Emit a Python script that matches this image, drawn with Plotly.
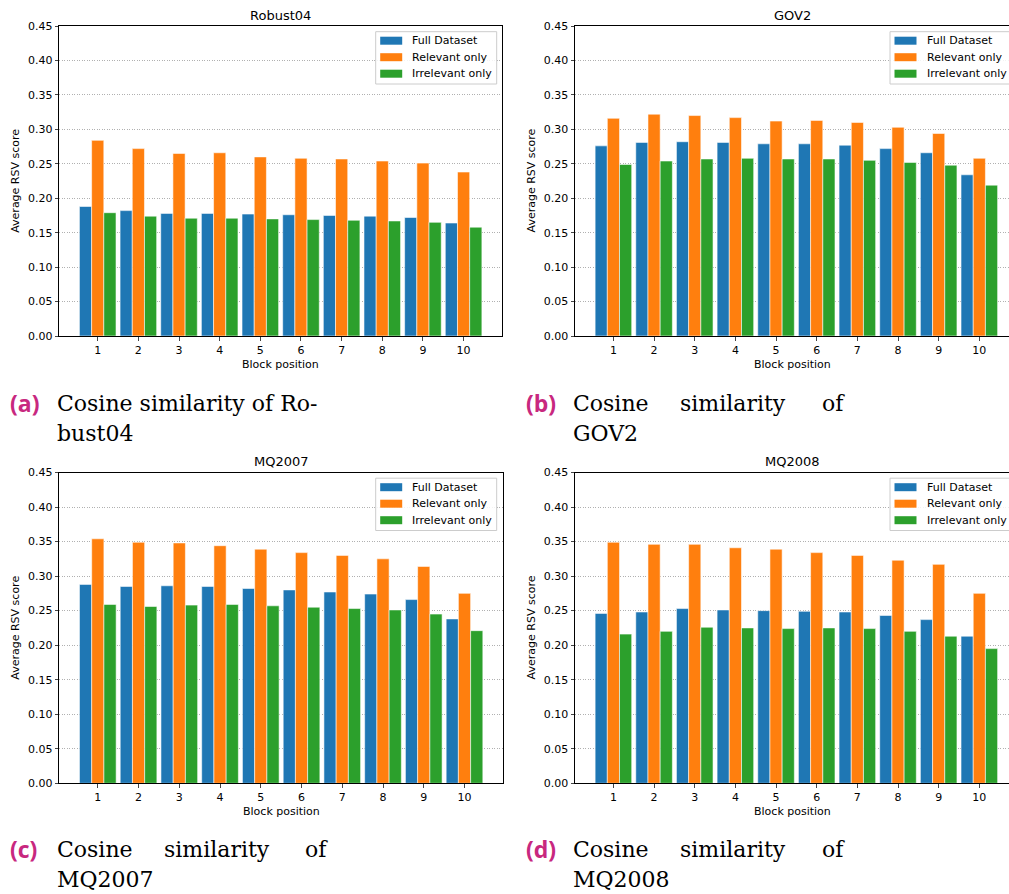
import plotly.graph_objects as go

# Block positions on the x axis
blocks = [1, 2, 3, 4, 5, 6, 7, 8, 9, 10]

series_names = ["Full Dataset", "Relevant only", "Irrelevant only"]
series_colors = ["#1f77b4", "#ff7f0e", "#2ca02c"]

# Average RSV score per block position
robust04_full = [0.188, 0.182, 0.178, 0.178, 0.177, 0.176, 0.175, 0.174, 0.172, 0.164]
robust04_rel = [0.284, 0.272, 0.265, 0.266, 0.260, 0.258, 0.257, 0.254, 0.251, 0.238]
robust04_irr = [0.179, 0.174, 0.171, 0.171, 0.170, 0.169, 0.168, 0.167, 0.165, 0.158]

gov2_full = [0.276, 0.281, 0.282, 0.281, 0.279, 0.279, 0.277, 0.272, 0.266, 0.234]
gov2_rel = [0.316, 0.322, 0.320, 0.317, 0.312, 0.313, 0.310, 0.303, 0.294, 0.258]
gov2_irr = [0.249, 0.254, 0.257, 0.258, 0.257, 0.257, 0.255, 0.252, 0.248, 0.219]

mq2007_full = [0.288, 0.285, 0.286, 0.285, 0.282, 0.280, 0.277, 0.274, 0.266, 0.238]
mq2007_rel = [0.354, 0.349, 0.348, 0.344, 0.339, 0.334, 0.330, 0.325, 0.314, 0.275]
mq2007_irr = [0.259, 0.256, 0.258, 0.259, 0.257, 0.255, 0.253, 0.251, 0.245, 0.221]

mq2008_full = [0.246, 0.248, 0.253, 0.251, 0.250, 0.249, 0.248, 0.243, 0.237, 0.213]
mq2008_rel = [0.349, 0.346, 0.346, 0.341, 0.339, 0.334, 0.330, 0.323, 0.317, 0.275]
mq2008_irr = [0.216, 0.220, 0.226, 0.225, 0.224, 0.225, 0.224, 0.220, 0.213, 0.195]

panel_titles = ["Robust04", "GOV2", "MQ2007", "MQ2008"]
panel_series = [
    [robust04_full, robust04_rel, robust04_irr],
    [gov2_full, gov2_rel, gov2_irr],
    [mq2007_full, mq2007_rel, mq2007_irr],
    [mq2008_full, mq2008_rel, mq2008_irr],
]
caption_letters = ["(a)", "(b)", "(c)", "(d)"]

W, H = 1009, 894
FONT = "DejaVu Sans"


def px(x):
    return x / W


def py(y):
    return (H - y) / H


# Pixel frames of the four axes: left, right, top, bottom
frames = [
    (59.3, 502.0, 26.0, 336.0),
    (575.0, 1009.0, 26.0, 336.0),
    (59.3, 503.0, 472.5, 783.3),
    (575.0, 1009.0, 472.5, 783.3),
]
x_ranges = [[0.055, 10.945], [0.055, 10.73], [0.055, 10.945], [0.055, 10.73]]
# Legend box left edge for each panel
legend_left = [375.7, 890.0, 375.7, 890.0]

fig = go.Figure()

for i, series in enumerate(panel_series):
    sfx = "" if i == 0 else str(i + 1)
    for name, color, vals in zip(series_names, series_colors, series):
        fig.add_trace(go.Bar(
            x=blocks, y=vals, name=name,
            marker=dict(color=color, line=dict(color="rgba(255,255,255,0.7)", width=0.8)),
            xaxis="x" + sfx, yaxis="y" + sfx,
            showlegend=False,
        ))

layout = dict(
    width=W, height=H,
    margin=dict(l=0, r=0, t=0, b=0, autoexpand=False),
    paper_bgcolor="white", plot_bgcolor="white",
    barmode="group", bargap=0.1, bargroupgap=0,
    font=dict(family=FONT, size=11, color="black"),
    showlegend=False,
)

annotations = []
shapes = []
for i, (l, r, t, b) in enumerate(frames):
    sfx = "" if i == 0 else str(i + 1)
    full_frame = i in (0, 2)
    layout["xaxis" + sfx] = dict(
        domain=[px(l), px(r)], range=x_ranges[i], anchor="y" + sfx,
        tickvals=blocks, ticks="outside", ticklen=3.5, tickwidth=0.8,
        showline=True, linecolor="black", linewidth=1, mirror=True,
        showgrid=False, zeroline=False,
        tickfont=dict(family=FONT, size=11, color="black"),
    )
    layout["yaxis" + sfx] = dict(
        domain=[py(b), py(t)], range=[0, 0.45], anchor="x" + sfx,
        dtick=0.05, tick0=0, tickformat=".2f",
        ticks="outside", ticklen=3.5, tickwidth=0.8,
        showline=True, linecolor="black", linewidth=1, mirror=full_frame,
        showgrid=True, gridcolor="#b0b0b0", gridwidth=0.8, griddash="1px,1.5px",
        zeroline=False,
        tickfont=dict(family=FONT, size=11, color="black"),
    )

    # legend box in the top-right corner of the panel
    lx = legend_left[i]
    ltop = t + 5.7
    box_right = lx + 121 if full_frame else W + 20
    shapes.append(dict(
        type="rect", xref="paper", yref="paper",
        x0=px(lx), x1=px(box_right), y0=py(ltop + 52.3), y1=py(ltop),
        fillcolor="rgba(255,255,255,0.85)", line=dict(color="#cccccc", width=1),
        layer="above",
    ))
    for k, (name, color) in enumerate(zip(series_names, series_colors)):
        cy = ltop + 9.0 + 16.5 * k
        shapes.append(dict(
            type="rect", xref="paper", yref="paper",
            x0=px(lx + 4.5), x1=px(lx + 26.5), y0=py(cy + 4), y1=py(cy - 4),
            fillcolor=color, line=dict(width=0), layer="above",
        ))
        annotations.append(dict(
            text=name, x=px(lx + 34.5), y=py(cy), xref="paper", yref="paper",
            xanchor="left", yanchor="middle", showarrow=False,
            font=dict(family=FONT, size=11, color="black"),
        ))

    cx = (l + min(r, l + 443.6)) / 2
    # panel title
    annotations.append(dict(
        text=panel_titles[i], x=px(cx), y=py(t - 11), xref="paper", yref="paper",
        xanchor="center", yanchor="middle", showarrow=False,
        font=dict(family=FONT, size=13, color="black"),
    ))
    # axis titles
    annotations.append(dict(
        text="Block position", x=px(cx), y=py(b + 28), xref="paper", yref="paper",
        xanchor="center", yanchor="middle", showarrow=False,
        font=dict(family=FONT, size=11, color="black"),
    ))
    annotations.append(dict(
        text="Average RSV score", x=px(l - 43.5), y=py((t + b) / 2),
        xref="paper", yref="paper", textangle=-90,
        xanchor="center", yanchor="middle", showarrow=False,
        font=dict(family=FONT, size=11, color="black"),
    ))

# Sub-figure captions
CAP_FONT = dict(family="DejaVu Serif", size=22, color="black")
LBL_FONT = dict(family="Open Sans", size=23, color="#c8287f")
caption_rows = [
    (0, 403, [(55, "Cosine similarity of Ro-")], (55, "bust04")),
    (516, 403, [(571, "Cosine"), (678, "similarity"), (820, "of")], (571, "GOV2")),
    (0, 849, [(55, "Cosine"), (162, "similarity"), (303, "of")], (55, "MQ2007")),
    (516, 849, [(571, "Cosine"), (678, "similarity"), (820, "of")], (571, "MQ2008")),
]
for i, (x0, y0, words, second) in enumerate(caption_rows):
    annotations.append(dict(
        text="<b>" + caption_letters[i] + "</b>", x=px(x0 + 8), y=py(y0),
        xref="paper", yref="paper", xanchor="left", yanchor="middle",
        showarrow=False, font=LBL_FONT,
    ))
    for wx, word in words:
        annotations.append(dict(
            text=word, x=px(wx), y=py(y0), xref="paper", yref="paper",
            xanchor="left", yanchor="middle", showarrow=False, font=CAP_FONT,
        ))
    annotations.append(dict(
        text=second[1], x=px(second[0]), y=py(y0 + 30), xref="paper", yref="paper",
        xanchor="left", yanchor="middle", showarrow=False, font=CAP_FONT,
    ))

layout["annotations"] = annotations
layout["shapes"] = shapes
fig.update_layout(**layout)

fig.write_html("out.html")
